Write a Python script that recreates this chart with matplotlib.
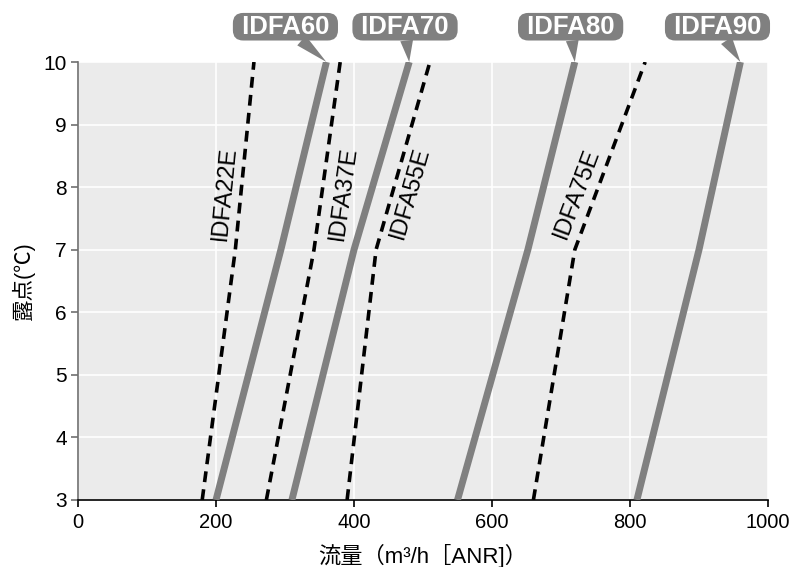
import matplotlib
matplotlib.use('Agg')
import matplotlib.pyplot as plt
import numpy as np

# ---- data ----
dew_points = [3, 7, 10]
solid_names = ["IDFA60", "IDFA70", "IDFA80", "IDFA90"]
solid_flows = [
    [200, 294, 360],
    [310, 400, 480],
    [550, 652, 720],
    [810, 900, 960],
]
dashed_names = ["IDFA22E", "IDFA37E", "IDFA55E", "IDFA75E"]
dashed_flows = [
    [180, 228, 255],
    [273, 342, 380],
    [390, 432, 510],
    [660, 720, 822],
]
x_ticks = [0, 200, 400, 600, 800, 1000]
y_ticks = [3, 4, 5, 6, 7, 8, 9, 10]

# ---- layout / style ----
box_offsets_pt = [(-29.5, 25.4), (-3, 25.4), (-3, 25.4), (-16.5, 25.4)]
dashed_label_pos = [(212, 7.9), (385, 7.9), (482, 7.9), (723, 7.9)]

GRAY = "#808080"
BG = "#ebebeb"
LATIN = ["Liberation Sans", "Noto Sans CJK JP", "DejaVu Sans"]
plt.rcParams['font.family'] = LATIN

fig = plt.figure(figsize=(7.89, 5.67), dpi=100)
ax = fig.add_axes([78 / 789, 1 - 500 / 567, 690 / 789, 438 / 567])
ax.set_facecolor(BG)
ax.set_xlim(0, 1000)
ax.set_ylim(3, 10)
ax.set_xticks(x_ticks)
ax.set_yticks(y_ticks)
ax.grid(True, color="white", linewidth=1.2)
ax.set_axisbelow(True)

for s in ["top", "right"]:
    ax.spines[s].set_visible(False)
ax.spines["left"].set_color("#707070")
ax.spines["left"].set_linewidth(1.2)
ax.spines["bottom"].set_color("black")
ax.spines["bottom"].set_linewidth(1.2)
ax.tick_params(axis="y", colors="#707070", labelcolor="black", length=5, width=1.2, labelsize=15, pad=3)
ax.tick_params(axis="x", colors="black", length=5, width=1.2, labelsize=14.5, pad=4)

for flows in solid_flows:
    ax.plot(flows, dew_points, color=GRAY, linewidth=5, solid_capstyle="butt", zorder=3)

for flows in dashed_flows:
    ax.plot(flows, dew_points, color="black", linewidth=2.6, linestyle=(0, (3.0, 2.0)),
            dash_capstyle="butt", zorder=4)

fig.canvas.draw()

# dashed line labels, rotated along upper segment
for name, flows, pos in zip(dashed_names, dashed_flows, dashed_label_pos):
    p0 = ax.transData.transform((flows[1], dew_points[1]))
    p1 = ax.transData.transform((flows[2], dew_points[2]))
    ang = np.degrees(np.arctan2(p1[1] - p0[1], p1[0] - p0[0]))
    ax.text(pos[0], pos[1], name, rotation=ang, rotation_mode="anchor",
            ha="center", va="center", fontsize=17, color="black", zorder=5)

# callout boxes for solid lines
for name, flows, off in zip(solid_names, solid_flows, box_offsets_pt):
    ax.annotate(" " + name + " ", xy=(flows[-1], dew_points[-1]), xycoords="data",
                xytext=off, textcoords="offset points",
                ha="center", va="center", fontsize=18.5, fontweight="bold", color="white",
                bbox=dict(boxstyle="round,pad=0.07,rounding_size=0.4", fc=GRAY, ec="none"),
                arrowprops=dict(arrowstyle="wedge,tail_width=0.5,shrink_factor=0.5", fc=GRAY, ec="none",
                                shrinkA=0, shrinkB=0),
                annotation_clip=False, zorder=6)

ax.set_xlabel("流量（m³/h［ANR]）", fontsize=16, labelpad=9)
ax.set_ylabel("露点(℃)", fontsize=15.5, labelpad=6)

fig.savefig("out.png", dpi=100)
